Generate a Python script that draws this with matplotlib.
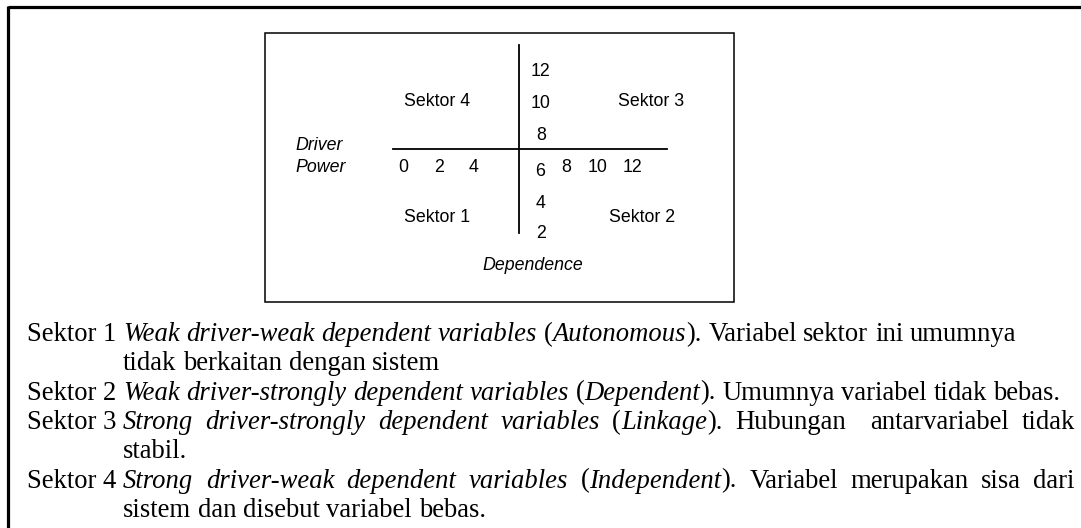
import matplotlib
matplotlib.use("Agg")
import matplotlib.pyplot as plt
from matplotlib.patches import Rectangle

# Diagram labels
dep_ticks    = ["0", "2", "4", "6", "8", "10", "12"]     # along horizontal line
drv_upper    = ["12", "10", "8"]                         # above the horizontal line
drv_lower    = ["4", "2"]                                # below the horizontal line
sector_names = ["Sektor 4", "Sektor 3", "Sektor 1", "Sektor 2"]

# Legend text below the diagram (*...* = italic)
legend_labels = ["Sektor 1", "Sektor 2", "Sektor 3", "Sektor 4"]
legend_bodies = [
    ["*Weak driver-weak dependent variables* (*Autonomous*). Variabel sektor ini umumnya",
     "tidak berkaitan dengan sistem"],
    ["*Weak driver-strongly dependent variables* (*Dependent*). Umumnya variabel tidak bebas."],
    ["*Strong driver-strongly dependent variables* (*Linkage*). Hubungan  antarvariabel tidak",
     "stabil."],
    ["*Strong driver-weak dependent variables* (*Independent*). Variabel merupakan sisa dari",
     "sistem dan disebut variabel bebas."],
]
# justify the first line of a paragraph when it wraps to the right margin
legend_justify = [False, False, True, True]

W, H = 1081, 528
fig = plt.figure(figsize=(W / 100, H / 100), dpi=100)
ax = fig.add_axes([0, 0, 1, 1])
ax.set_xlim(0, W)
ax.set_ylim(H, 0)
ax.axis("off")

sans = "Liberation Sans"
serif = "Liberation Serif"

# outer frame (top + left only)
ax.plot([8, W], [7, 7], color="black", lw=2.3, solid_capstyle="butt")
ax.plot([8, 8], [6, H], color="black", lw=2.3, solid_capstyle="butt")

# inner box
ax.add_patch(Rectangle((265, 33), 469, 269, fill=False, ec="black", lw=1.1))

# cross
ax.plot([519, 519], [45, 233], color="black", lw=1.3)
ax.plot([393, 667], [149, 149], color="black", lw=1.3)

fs = 12.8
dep_x = [403, 439, 474, 540, 566, 598, 632]
for lab, x in zip(dep_ticks, dep_x):
    y = 171 if lab == "6" else 168
    ax.text(x, y, lab, family=sans, fontsize=fs, ha="center", va="center")
for lab, y in zip(drv_upper, [72, 103, 135]):
    ax.text(541, y, lab, family=sans, fontsize=fs, ha="center", va="center")
for lab, y in zip(drv_lower, [203, 234]):
    ax.text(541, y, lab, family=sans, fontsize=fs, ha="center", va="center")

sec_pos = [(437, 101), (651, 101), (437, 218), (642, 218)]
for lab, (x, y) in zip(sector_names, sec_pos):
    ax.text(x, y, lab, family=sans, fontsize=fs, ha="center", va="center")

ax.text(295, 146, "Driver", family=sans, fontsize=fs, style="italic", ha="left", va="center")
ax.text(295, 167, "Power", family=sans, fontsize=fs, style="italic", ha="left", va="center")
ax.text(533, 265, "Dependence", family=sans, fontsize=fs, style="italic", ha="center", va="center")

# legend text
renderer = fig.canvas.get_renderer()
tfs = 19.2
x_label, x_body, x_right = 27, 123, 1075
y0, dy = 341, 29.3


def parse(line, italic):
    words = []
    for w in line.split(" "):
        pieces = []
        for k, part in enumerate(w.split("*")):
            if k > 0:
                italic = not italic
            if part:
                pieces.append((part, italic))
        words.append(pieces)
    return words, italic


def piece_width(s, it):
    t = ax.text(0, 0, s, family=serif, fontsize=tfs, style="italic" if it else "normal")
    w = t.get_window_extent(renderer).width
    t.remove()
    return w


space_w = piece_width("a a", False) - piece_width("aa", False)

row = 0
for label, body, just in zip(legend_labels, legend_bodies, legend_justify):
    for j, line in enumerate(body):
        y = y0 + row * dy
        if j == 0:
            ax.text(x_label, y, label, family=serif, fontsize=tfs, va="baseline")
        words, _ = parse(line, False)
        widths = [sum(piece_width(s, it) for s, it in w) for w in words]
        gap = space_w
        if just and j == 0 and len(words) > 1:
            gap = (x_right - x_body - sum(widths)) / (len(words) - 1)
        x = x_body
        for w, ww in zip(words, widths):
            xx = x
            for s, it in w:
                ax.text(xx, y, s, family=serif, fontsize=tfs, va="baseline",
                        style="italic" if it else "normal")
                xx += piece_width(s, it)
            x += ww + gap
        row += 1

fig.savefig("out.png", dpi=100)
